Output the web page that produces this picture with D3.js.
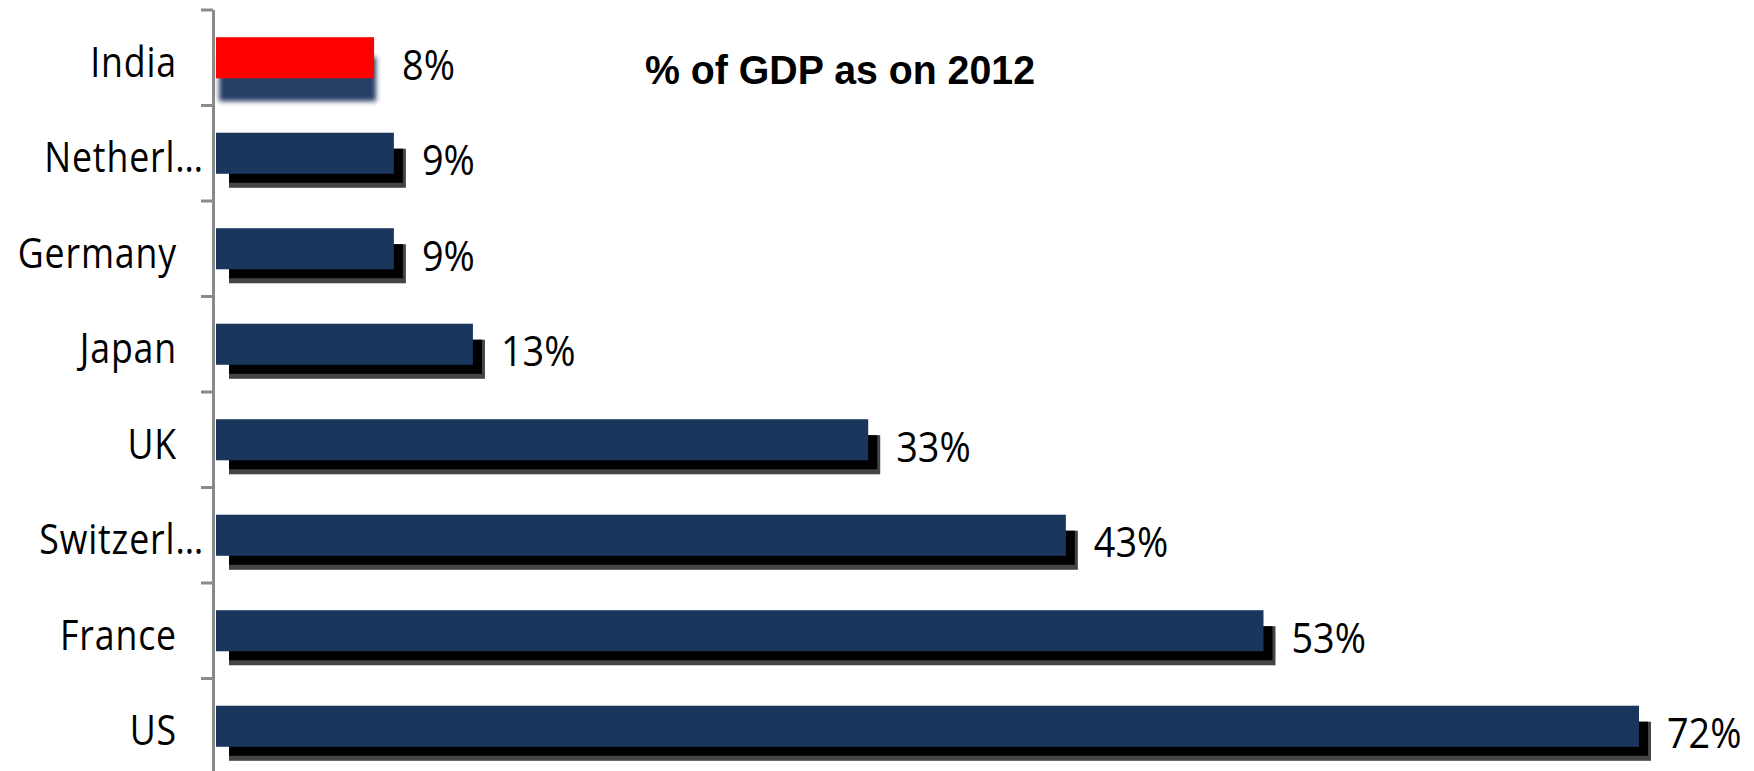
<!DOCTYPE html>
<html>
<head>
<meta charset="utf-8">
<script src="https://cdn.jsdelivr.net/npm/d3@7"></script>
<style>
  html, body { margin: 0; padding: 0; background: #ffffff; }
  svg { display: block; }
</style>
</head>
<body>
<script>
// Market capitalisation as % of GDP, 2012
const categories = ["India", "Netherl…", "Germany", "Japan", "UK", "Switzerl…", "France", "US"];
const values = [8, 9, 9, 13, 33, 43, 53, 72];
const highlighted = ["India"];
const title = "% of GDP as on 2012";

const W = 1754, H = 771;
const navy = "#1a365d";
const labelFont = "'Open Sans', 'Noto Sans', sans-serif";

const svg = d3.select("body").append("svg")
  .attr("width", W).attr("height", H);

const defs = svg.append("defs");
defs.append("filter").attr("id", "softShadow")
  .attr("x", "-10%").attr("y", "-50%").attr("width", "120%").attr("height", "200%")
  .append("feGaussianBlur").attr("stdDeviation", 2.4);

const x = d3.scaleLinear().domain([0, 72]).range([216, 1639]);
const y = d3.scaleBand().domain(categories).range([10, 774])
  .paddingInner(0.57).paddingOuter(0.285);
const bw = y.bandwidth();
const step = y.step();
const x0 = x(0);

const rows = categories.map((c, i) => ({ cat: c, value: values[i] }));

// Bar shadows
const shadows = svg.append("g");
rows.forEach(d => {
  const top = y(d.cat), end = x(d.value);
  if (highlighted.includes(d.cat)) {
    shadows.append("rect")
      .attr("x", x0 + 3).attr("y", top + 20)
      .attr("width", end - x0 - 1).attr("height", bw + 3)
      .attr("fill", navy).attr("opacity", 0.95)
      .attr("filter", "url(#softShadow)");
  } else {
    shadows.append("rect")
      .attr("x", x0 + 13).attr("y", top + 16)
      .attr("width", end + 12 - (x0 + 13)).attr("height", bw - 2)
      .attr("fill", "#444444");
    shadows.append("rect")
      .attr("x", x0 + 13).attr("y", top + 16)
      .attr("width", end + 9 - (x0 + 13)).attr("height", bw - 7)
      .attr("fill", "#000000");
  }
});

// Bars
svg.append("g").selectAll("rect").data(rows).join("rect")
  .attr("x", x0)
  .attr("y", d => y(d.cat))
  .attr("width", d => x(d.value) - x0)
  .attr("height", bw)
  .attr("fill", d => highlighted.includes(d.cat) ? "#ff0000" : navy);

// Category axis: vertical line with ticks at band boundaries
const axis = svg.append("g").attr("stroke", "#8a8a8a");
axis.append("line")
  .attr("x1", 213.5).attr("x2", 213.5)
  .attr("y1", y.range()[0]).attr("y2", H)
  .attr("stroke-width", 3);
categories.forEach(c => {
  const b = y(c) - (step - bw) / 2;
  axis.append("line")
    .attr("x1", 201).attr("x2", 213)
    .attr("y1", b).attr("y2", b)
    .attr("stroke-width", 3);
});

// Category labels
svg.append("g").selectAll("text").data(rows).join("text")
  .attr("transform", d => {
    const xe = d.cat.endsWith("…") ? 204 : 177;
    return `translate(${xe},${y(d.cat) + bw / 2 + 19}) scale(0.85,1)`;
  })
  .attr("text-anchor", "end")
  .attr("font-family", labelFont)
  .attr("font-size", 42)
  .attr("letter-spacing", 1)
  .attr("fill", "#000")
  .text(d => d.cat);

// Value labels
svg.append("g").selectAll("text").data(rows).join("text")
  .attr("transform", d => `translate(${x(d.value) + 28},${y(d.cat) + bw / 2 + 22}) scale(0.9,1)`)
  .attr("font-family", labelFont)
  .attr("font-size", 42)
  .attr("fill", "#000")
  .text(d => d.value + "%");

// Title
svg.append("text")
  .attr("x", 645).attr("y", 84)
  .attr("font-family", "'Liberation Sans', Arial, sans-serif")
  .attr("font-weight", "bold")
  .attr("font-size", 41)
  .attr("textLength", 390)
  .attr("lengthAdjust", "spacingAndGlyphs")
  .attr("fill", "#000")
  .text(title);
</script>
</body>
</html>
